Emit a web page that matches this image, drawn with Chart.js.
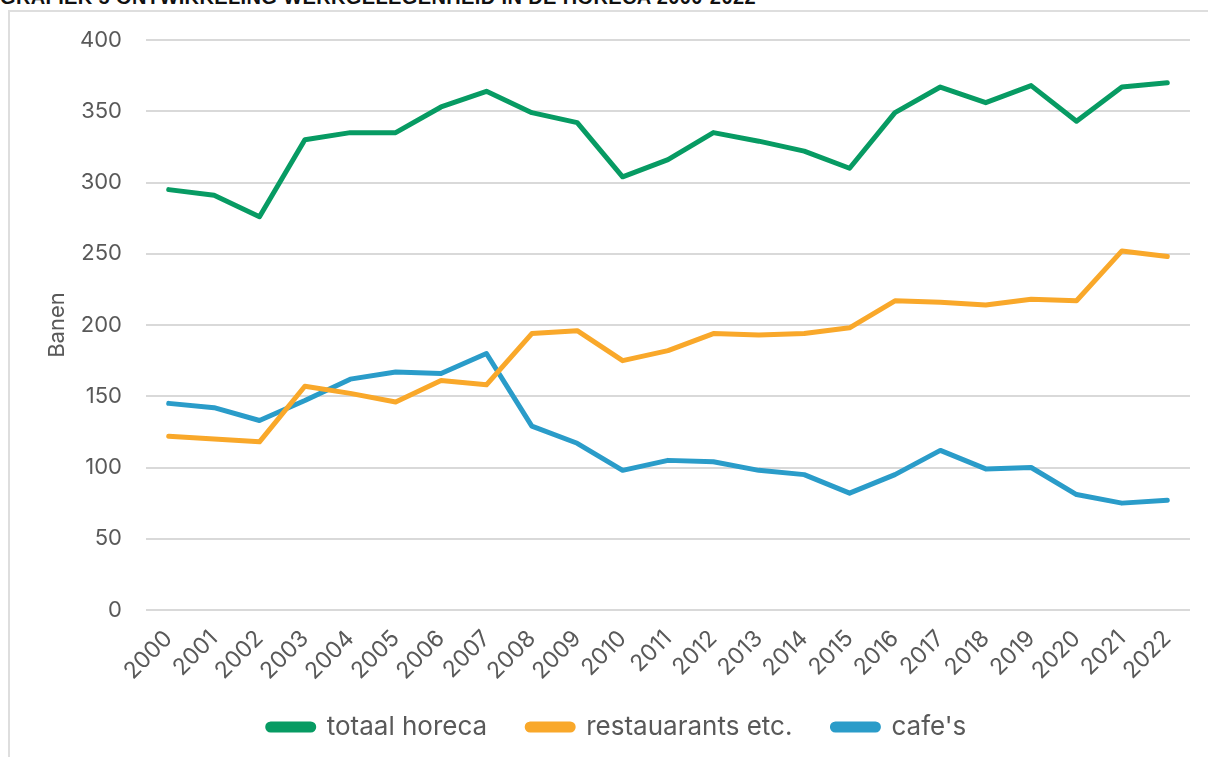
<!DOCTYPE html>
<html>
<head>
<meta charset="utf-8">
<script src="https://cdn.jsdelivr.net/npm/chart.js@4"></script>
<style>
  html, body { margin: 0; padding: 0; background: #fff; width: 1208px; height: 757px; overflow: hidden; }
  #card { position: absolute; left: 8px; top: 10px; width: 1400px; height: 1000px; border: 2px solid #dedede; box-sizing: border-box; }
  #title { position: absolute; left: 0px; top: -15px; font-family: "Liberation Sans", Arial, sans-serif; font-weight: bold; font-size: 20px; line-height: 24px; color: #111; white-space: nowrap; letter-spacing: 0.38px; }
  #wrap { position: absolute; left: 0; top: 0; width: 1208px; height: 750px; }
</style>
</head>
<body>
<div id="title">GRAFIEK 5 ONTWIKKELING WERKGELEGENHEID IN DE HORECA 2000-2022</div>
<div id="card"></div>
<div id="wrap"><canvas id="c" width="1208" height="750"></canvas></div>
<script>
const years = ["2000","2001","2002","2003","2004","2005","2006","2007","2008","2009","2010","2011","2012","2013","2014","2015","2016","2017","2018","2019","2020","2021","2022"];
const totaalHoreca = [295, 291, 276, 330, 335, 335, 353, 364, 349, 342, 304, 316, 335, 329, 322, 310, 349, 367, 356, 368, 343, 367, 370];
const restaurants = [122, 120, 118, 157, 152, 146, 161, 158, 194, 196, 175, 182, 194, 193, 194, 198, 217, 216, 214, 218, 217, 252, 248];
const cafes = [145, 142, 133, 147, 162, 167, 166, 180, 129, 117, 98, 105, 104, 98, 95, 82, 95, 112, 99, 100, 81, 75, 77];
const seriesNames = ["totaal horeca", "restauarants etc.", "cafe's"];
const yTicks = [0, 50, 100, 150, 200, 250, 300, 350, 400];

const colors = ["#079b63", "#f9a82a", "#2a9cc9"];
const textColor = "#595959";
const LEFT_PAD = 44, PLOT_LEFT = 146, X_AXIS_H = 64, LABEL_ROOM = 40;

// the x-axis box is kept compact so the legend sits close; let its rotated labels draw below it
const labelRoom = {
  id: 'labelRoom',
  afterLayout(chart) { chart.scales.x.bottom += LABEL_ROOM; }
};

function ds(label, data, color) {
  return {
    label, data,
    borderColor: color, backgroundColor: color,
    borderWidth: 5, pointRadius: 0, pointHoverRadius: 0,
    tension: 0, borderCapStyle: 'round', borderJoinStyle: 'round', fill: false
  };
}

new Chart(document.getElementById('c'), {
  type: 'line',
  data: {
    labels: years,
    datasets: [
      ds(seriesNames[0], totaalHoreca, colors[0]),
      ds(seriesNames[1], restaurants, colors[1]),
      ds(seriesNames[2], cafes, colors[2])
    ]
  },
  plugins: [labelRoom],
  options: {
    responsive: false,
    animation: false,
    devicePixelRatio: 1,
    layout: { padding: { left: LEFT_PAD, right: 18, top: 40, bottom: 0 } },
    plugins: {
      tooltip: { enabled: false },
      legend: {
        position: 'bottom',
        labels: {
          boxWidth: 46, boxHeight: 6, useBorderRadius: true, borderRadius: 3,
          padding: 40,
          color: textColor,
          font: { family: "Inter", size: 26 }
        }
      }
    },
    scales: {
      y: {
        min: 0, max: 400,
        afterBuildTicks: (axis) => { axis.ticks = yTicks.map(v => ({ value: v })); },
        afterFit: (axis) => { axis.width = PLOT_LEFT - LEFT_PAD; },
        ticks: { color: textColor, font: { family: "Inter", size: 22 }, padding: 24 },
        grid: { color: "#d9d9d9", lineWidth: 2, drawTicks: false },
        border: { display: false },
        title: { display: true, text: "Banen", color: textColor, font: { family: "Inter", size: 22 }, padding: { top: 0, bottom: 6 } }
      },
      x: {
        offset: true,
        afterFit: (axis) => { axis.height = X_AXIS_H; },
        grid: { display: false, drawTicks: false },
        border: { display: false },
        ticks: { color: textColor, font: { family: "Inter", size: 23 }, minRotation: 45, maxRotation: 45, autoSkip: false, padding: 15 }
      }
    }
  }
});
</script>
</body>
</html>
